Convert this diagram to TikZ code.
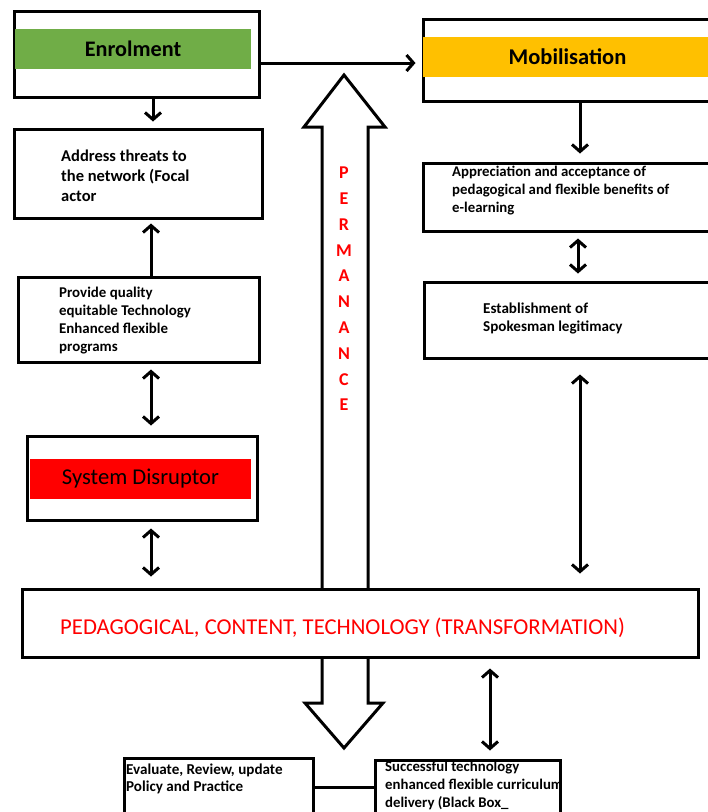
\documentclass[tikz,border=0pt]{standalone}
\usepackage{fontspec}
\setmainfont{Carlito}
\usetikzlibrary{arrows.meta}
\definecolor{egreen}{HTML}{70AD47}
\definecolor{morange}{HTML}{FFC000}
\definecolor{sred}{HTML}{FF0000}
\begin{document}
\begin{tikzpicture}[x=1pt,y=-1pt,
  box/.style={draw=black,line width=3pt,fill=white,inner sep=0pt},
  band/.style={inner sep=0pt,draw=none},
  small/.style={anchor=west,inner sep=0pt,align=left,font=\fontsize{14.5}{18}\selectfont\bfseries},
  tip/.tip={Straight Barb[length=7pt,width=16pt]},
  arr/.style={line width=3pt,-tip},
  darr/.style={line width=3pt,tip-tip},
  conn/.style={line width=3pt}]
\useasboundingbox (0,0) rectangle (708,812);
\clip (0,0) rectangle (708,812);
\fill[white] (0,0) rectangle (708,812);

% big Permanence arrow
\draw[line width=3pt,line join=miter,fill=white] (344,75) -- (385,127) -- (368,127) -- (368,703) -- (383,703) -- (344,748) -- (305,703) -- (322,703) -- (322,127) -- (304,127) -- cycle;
\node[text=sred,align=center,inner sep=0pt,font=\fontsize{18}{25.8}\selectfont\bfseries] (perm) at (344,289) {P\\E\\R\\M\\A\\N\\A\\N\\C\\E};

% left column
\node[box,minimum width=245,minimum height=86] (enrol) at (136.5,54) {};
\node[band,fill=egreen,minimum width=236,minimum height=40,font=\fontsize{22.2}{24}\selectfont\bfseries] (enrolband) at (133,49) {Enrolment};

\node[box,minimum width=248,minimum height=89] (addr) at (138,173.5) {};
\node[small,font=\fontsize{16.5}{20}\selectfont\bfseries] (addrtxt) at (61,176) {Address threats to\\the network (Focal\\actor};

\node[box,minimum width=241,minimum height=85] (prov) at (138.5,319.5) {};
\node[small,font=\fontsize{14.9}{17.7}\selectfont\bfseries] (provtxt) at (59,320.5) {Provide quality\\equitable Technology\\Enhanced flexible\\programs};

\node[box,minimum width=230,minimum height=84] (sys) at (142,478) {};
\node[band,fill=sred,minimum width=221,minimum height=40,font=\fontsize{22.6}{24}\selectfont] (sysband) at (140.5,479) {System Disruptor};

% right column
\node[box,minimum width=289,minimum height=82] (mob) at (567.5,60) {};
\node[band,fill=morange,minimum width=289,minimum height=40,font=\fontsize{22.5}{24}\selectfont\bfseries] (mobband) at (567.5,57) {Mobilisation};

\node[box,minimum width=289,minimum height=68] (appr) at (567.5,197) {};
\node[small,font=\fontsize{14.8}{18}\selectfont\bfseries] (apprtxt) at (452,191) {Appreciation and acceptance of\\pedagogical and flexible benefits of\\e-learning};

\node[box,minimum width=288,minimum height=76] (est) at (568,320) {};
\node[small,font=\fontsize{15.1}{18}\selectfont\bfseries] (esttxt) at (483,318) {Establishment of\\Spokesman legitimacy};

% transformation box
\node[box,minimum width=676,minimum height=68] (pct) at (360,623) {};
\node[anchor=west,inner sep=0pt,text=sred,font=\fontsize{22.7}{24}\selectfont] (pcttxt) at (60,628) {PEDAGOGICAL, CONTENT, TECHNOLOGY (TRANSFORMATION)};

% bottom boxes
\node[box,minimum width=189,minimum height=72] (eval) at (218.5,794) {};
\node[small,font=\fontsize{15.1}{17}\selectfont\bfseries] (evaltxt) at (126,778.5) {Evaluate, Review, update\\Policy and Practice};

\node[box,minimum width=185,minimum height=70] (succ) at (467.5,795) {};
\node[small,font=\fontsize{14.8}{18}\selectfont\bfseries] (succtxt) at (385,785) {Successful technology\\enhanced flexible curriculum\\delivery (Black Box\_};

% connectors
\coordinate (xa) at (153,0);
\coordinate (xb) at (151,0);
\coordinate (xc) at (580,0);
\coordinate (xd) at (578,0);
\coordinate (xe) at (490,0);
\coordinate (ya) at (0,63);
\coordinate (yb) at (0,787);

\draw[arr,shorten >=6pt] (enrol.south -| xa) -- (addr.north -| xa);
\draw[arr,shorten >=6pt] (enrol.east |- ya) -- (mob.west |- ya);
\draw[arr,shorten >=4pt] (prov.north -| xb) -- (addr.south -| xb);
\draw[darr,shorten <=6pt,shorten >=9pt] (prov.south -| xb) -- (sys.north -| xb);
\draw[darr,shorten <=7pt,shorten >=11pt] (sys.south -| xb) -- (pct.north -| xb);
\draw[arr,shorten >=8pt] (mob.south -| xc) -- (appr.north -| xc);
\draw[darr,shorten <=6pt,shorten >=7pt] (appr.south -| xd) -- (est.north -| xd);
\draw[darr,shorten <=15pt,shorten >=14pt] (est.south -| xc) -- (pct.north -| xc);
\draw[darr,shorten <=10pt,shorten >=8pt] (pct.south -| xe) -- (succ.north -| xe);
\draw[conn] (eval.east |- yb) -- (succ.west |- yb);
\end{tikzpicture}
\end{document}
